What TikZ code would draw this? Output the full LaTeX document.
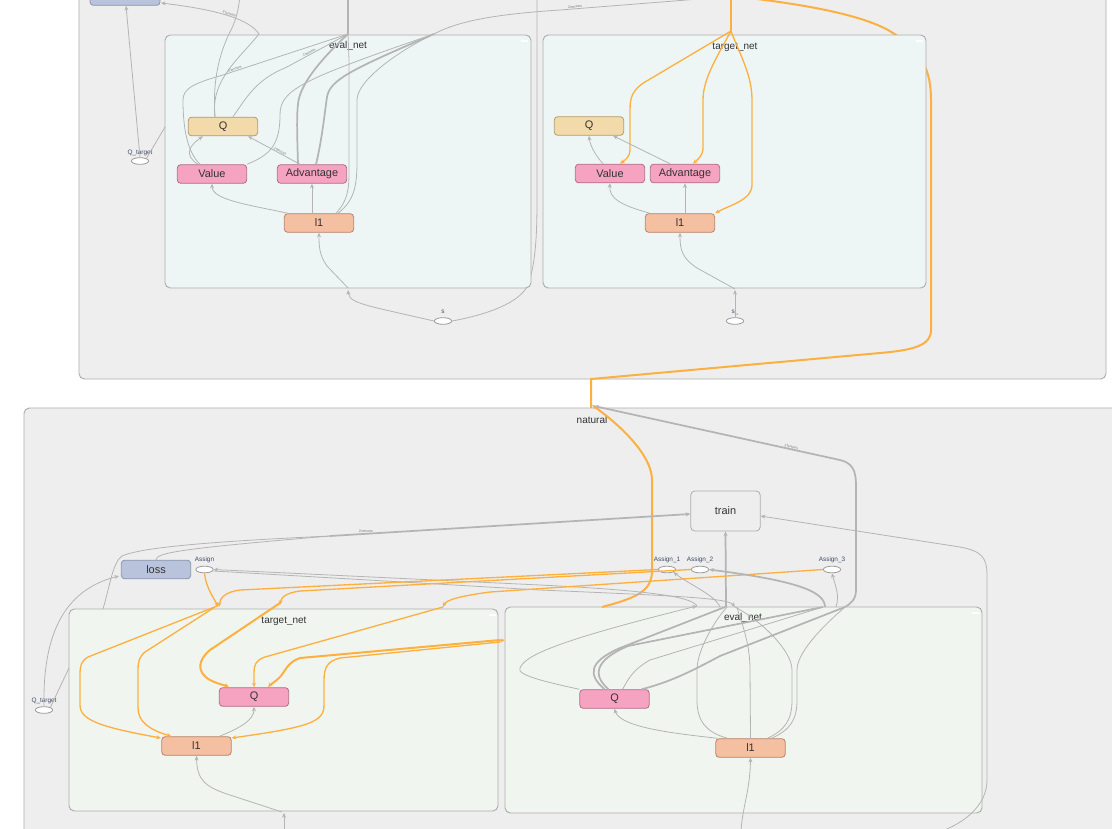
\documentclass[tikz,border=0pt]{standalone}
\usepackage{fontspec}
\setmainfont{Liberation Sans}
\usetikzlibrary{arrows.meta,calc,shapes.geometric}
\definecolor{outerbg}{HTML}{EEEEEE}
\definecolor{grpdraw}{HTML}{ADADAD}
\definecolor{evalbg}{HTML}{EEF6F5}
\definecolor{lowbg}{HTML}{F1F5EF}
\definecolor{tanfill}{HTML}{F2DAAB}
\definecolor{tandraw}{HTML}{B39B6C}
\definecolor{pinkfill}{HTML}{F5A3C0}
\definecolor{pinkdraw}{HTML}{B06F88}
\definecolor{salfill}{HTML}{F5BFA2}
\definecolor{saldraw}{HTML}{B7846A}
\definecolor{lossfill}{HTML}{B9C3DC}
\definecolor{lossdraw}{HTML}{8A95AE}
\definecolor{edgegray}{HTML}{B4B4B4}
\definecolor{orng}{HTML}{FDB040}
\definecolor{txt}{HTML}{333333}
\definecolor{lbltxt}{HTML}{3F4A66}
\definecolor{ellgray}{HTML}{9A9A9A}
\definecolor{trainfill}{HTML}{EEEEEE}
\tikzset{
 op/.style={draw, rounded corners=2.5pt, minimum width=52pt, minimum height=14pt, inner sep=0pt, font=\fontsize{8.2}{9}\selectfont, text=txt, line width=0.6pt},
 qtan/.style={op, fill=tanfill, draw=tandraw},
 pinkn/.style={op, fill=pinkfill, draw=pinkdraw},
 salm/.style={op, fill=salfill, draw=saldraw},
 lossn/.style={op, fill=lossfill, draw=lossdraw},
 trainn/.style={op, fill=trainfill, draw=grpdraw, minimum height=30pt, rounded corners=3pt},
 ell/.style={ellipse, draw=ellgray, fill=white, minimum width=13pt, minimum height=5pt, inner sep=0pt, line width=0.6pt},
 lbl/.style={font=\fontsize{4.8}{5}\selectfont, text=lbltxt, inner sep=0pt},
 ttl/.style={font=\fontsize{7.5}{8}\selectfont, text=txt, inner sep=0pt},
 grp/.style={draw=grpdraw, line width=0.7pt, rounded corners=4pt},
 ge/.style={draw=edgegray, line width=0.6pt},
 gt/.style={draw=edgegray, line width=1.3pt},
 oe/.style={draw=orng, line width=1pt},
 ot/.style={draw=orng, line width=1.5pt},
 tip/.style={-{Stealth[length=3.5pt,width=3pt]}},
 rtip/.style={{Stealth[length=3.5pt,width=3pt]}-},
 elab/.style={font=\fontsize{2.6}{3}\selectfont, text=black!55, inner sep=0.3pt, sloped},
 mini/.style={draw=white, line width=0.9pt},
}
\begin{document}
\begin{tikzpicture}[x=0.75pt,y=-0.75pt]
\clip (0,0) rectangle (1112,828);
\fill[white] (0,0) rectangle (1112,828);

%% ---------------- upper graph ----------------
\draw[grp, fill=outerbg] (79,-30) rectangle (1106,379);
% long orange edge behind target_net
\draw[ot] (740,-3) .. controls (820,6) and (870,18) .. (893,33) .. controls (922,52) and (931,70) .. (931,100) -- (931,330) .. controls (931,345) and (915,350) .. (880,353) -- (591,379) -- (591,408);
% edge from s up between the groups
\node[ell] (sT) at (443,321) {};
\draw[ge] (sT.east) .. controls (490,314) and (520,302) .. (528,285) .. controls (535,265) and (537,240) .. (537,200) -- (537,-5);

\draw[grp, fill=evalbg] (165,35) rectangle (531,288);
\node[ttl] (evT) at (348,46) {eval\_net};
\draw[mini] (521,41) -- (528,41);
\draw[grp, fill=evalbg] (543,35) rectangle (926,288);
\node[ttl] (tgT) at (735,47) {target\_net};
\draw[mini] (916,41) -- (923,41);

\node[lossn, minimum width=52.5pt] (lossT) at (125,-4) {loss};
\node[ell] (QtargT) at (140,161) {};
\node[lbl] at (140,153) {Q\_target};
\node[lbl] at (443,312) {s};

\node[qtan] (QeT) at (223,126.5) {Q};
\node[pinkn] (ValT) at (212,174) {Value};
\node[pinkn] (AdvT) at (312,174) {Advantage};
\node[salm] (l1T) at (319,223) {l1};

\node[qtan] (QtT) at (589,126) {Q};
\node[pinkn] (VtT) at (610,173.5) {Value};
\node[pinkn] (AtT) at (685,173.5) {Advantage};
\node[salm] (l1tT) at (680,223) {l1};
\node[ell] (sU) at (735,321) {};
\node[lbl] at (735,312) {s\_};

\coordinate (h1) at (348,34);
\coordinate (h2) at (434,34);
\coordinate (h3) at (259,34);
\coordinate (ho) at (731,31);

% eval_net (upper) edges
\draw[gt] (348,-5) -- (h1);
\draw[ge,tip] (QtargT.north) -- ($(lossT.south)+(1,0)$);
\draw[ge] (QtargT.north east) -- (165,127);
\draw[ge,tip] (h3) .. controls (250,20) and (220,10) .. (161,3) node[elab,pos=0.5,above] {3\,tensors};
\draw[ge] (h3) .. controls (240,58) and (210,80) .. ($(QeT.north)+(-8,0)$);
\draw[ge] (240,-5) .. controls (238,18) and (232,28) .. (228,36) .. controls (222,50) and (212,75) .. ($(QeT.north)+(-8,0)$);
\draw[ge] ($(QeT.north)+(10,0)$) .. controls (245,100) and (255,80) .. (285,68) -- (h1) node[elab,pos=0.4,above] {2\,tensors};
\draw[ge] ($(ValT.north)+(-12,0)$) .. controls (185,150) and (183,120) .. (183,100) .. controls (183,88) and (195,83) .. (223,75) -- (h1) node[elab,pos=0.1,above] {2\,tensors};
\draw[ge,tip] ($(ValT.north)+(-14,0)$) .. controls (183,155) and (190,145) .. ($(QeT.south)+(-20,0)$);
\draw[ge,tip] ($(AdvT.north)+(-12,0)$) -- ($(QeT.south)+(25,0)$) node[elab,pos=0.4,above] {2\,tensors};
\draw[gt] ($(AdvT.north)+(-14,0)$) .. controls (297,130) and (296,105) .. (300,95) .. controls (305,80) and (320,60) .. (h1);
\draw[gt] ($(AdvT.north)+(4,0)$) .. controls (322,140) and (325,110) .. (327,97) .. controls (330,80) and (350,70) .. (h2);
\draw[ge] (ValT.north east) .. controls (270,155) and (280,145) .. (280,115) .. controls (280,90) and (300,80) .. (h2);
\draw[ge] ($(l1T.north)+(17,0)$) .. controls (348,200) and (349,190) .. (349,170) -- (349,60) -- (h1);
\draw[ge] ($(l1T.north)+(19,0)$) .. controls (355,200) and (357,185) .. (357,160) -- (357,100) .. controls (357,80) and (400,50) .. (h2);
\draw[ge] (h2) .. controls (460,20) and (500,14) .. (560,10) -- (712,-2) node[elab,pos=0.1,above] {2\,tensors};
\draw[ge,tip] ($(l1T.north west)+(4,0)$) .. controls (250,205) and (212,200) .. (ValT.south);
\draw[ge,tip] ($(l1T.north)+(-7,0)$) -- ($(AdvT.south)+(0,0)$);
\draw[ge,tip] (sT.west) -- (390,311) .. controls (355,303) and (349,300) .. (348,290);
\draw[ge,tip] (348,288) -- (327,266) .. controls (319,255) and (319,245) .. (l1T.south);

% target_net (upper) edges
\draw[oe] (ho) -- (731,-5);
\draw[oe,tip] (ho) -- (645,82) .. controls (632,90) and (630,98) .. (630,110) -- (630,150) .. controls (630,157) and (625,160) .. ($(VtT.north)+(10,0)$);
\draw[oe,tip] (ho) .. controls (715,60) and (703,80) .. (703,100) -- (703,148) .. controls (703,156) and (697,160) .. ($(AtT.north)+(8,0)$);
\draw[oe,tip] (ho) .. controls (740,55) and (752,75) .. (752,100) -- (752,185) .. controls (752,200) and (730,205) .. (l1tT.north east);
\draw[ge,tip] ($(VtT.north)+(-7,0)$) .. controls (595,155) and (590,145) .. (QtT.south);
\draw[ge,tip] ($(AtT.north)+(-15,0)$) -- ($(QtT.south)+(24,0)$);
\draw[ge,tip] ($(l1tT.north west)+(5,0)$) .. controls (620,205) and (609,198) .. (VtT.south);
\draw[ge,tip] ($(l1tT.north)+(5,0)$) -- (AtT.south);
\draw[ge,tip] (sU.north) -- (735,290);
\draw[ge,tip] (735,289) -- (697,268) .. controls (682,258) and (680,250) .. (l1tT.south);

%% ---------------- lower graph ----------------
\draw[grp, fill=outerbg] (24,408) rectangle (1150,870);
\node[ttl] (nat) at (592,420) {natural};

\draw[grp, fill=lowbg] (69,609) rectangle (498,811);
\node[ttl] (tgB) at (284,621) {target\_net};
\draw[mini] (489,615) -- (496,615);
\draw[grp, fill=lowbg] (505,607) rectangle (982,813);
\node[ttl] (evB) at (743,618) {eval\_net};
\draw[mini] (972,613) -- (979,613);

\node[trainn] (train) at (725.5,511) {train};
\node[lossn] (lossB) at (156,569.5) {loss};
\node[ell] (Assign) at (204.5,569.5) {};
\node[lbl] at (204.5,560) {Assign};
\node[ell] (A1) at (667,569.5) {};
\node[lbl] at (667,560) {Assign\_1};
\node[ell] (A2) at (700,569.5) {};
\node[lbl] at (700,560) {Assign\_2};
\node[ell] (A3) at (832,569.5) {};
\node[lbl] at (832,560) {Assign\_3};
\node[ell] (QtargB) at (44,710) {};
\node[lbl] at (44,701) {Q\_target};

\node[pinkn] (QtB) at (254,697) {Q};
\node[salm] (l1tB) at (196.5,746) {l1};
\node[pinkn] (QeB) at (614.5,699) {Q};
\node[salm] (l1eB) at (750.5,748) {l1};

% orange edge from natural's top into eval_net
\draw[ot,tip] (602,607) .. controls (640,597) and (652,590) .. (652,570) -- (652,480) .. controls (652,455) and (620,425) .. (592,405);
% thick gray edge from natural's top
\draw[gt,rtip] (594,406) -- (840,460) node[elab,pos=0.8,above] {2\,tensors} .. controls (852,463) and (856,470) .. (856,485) -- (856,590) .. controls (856,600) and (850,604) .. (845,607);

% train
\draw[gt,tip] (726,607) -- (train.south);
\draw[ge] (lossB.north) .. controls (157,553) and (175,549) .. (330,536);
\draw[ge] (103,609) .. controls (110,585) and (113,562) .. (122,556) .. controls (140,548) and (200,542) .. (330,536);
\draw[gt,tip] (330,536) -- node[elab,pos=0.1,above] {2\,tensors} ($(train.west)+(0,3)$);
\draw[ge,rtip] ($(train.east)+(0,5)$) -- (960,547) .. controls (982,551) and (987,558) .. (987,575) -- (987,780) .. controls (987,805) and (965,825) .. (930,835);

% lower bottom inputs
\draw[ge,tip] (741,830) .. controls (743,805) and (750,790) .. (l1eB.south);
\draw[ge,tip] (284,830) -- (284,813);
\draw[ge,tip] (282,812) -- (230,795) .. controls (205,787) and (197,780) .. (l1tB.south);

% Q_target (lower)
\draw[ge,tip] (QtargB.north) .. controls (43,650) and (55,592) .. (119,576);
\draw[ge] (QtargB.north east) -- (69,668);

% Assign nodes
\draw[oe,tip] (Assign.south) .. controls (206,588) and (214,598) .. (218,607);
\draw[ge,rtip] (Assign.east) -- (540,585) .. controls (640,590) and (692,596) .. (697,606);
\draw[ge,tip] ($(Assign.east)+(0,1.5)$) -- (540,590) .. controls (680,596) and (728,598) .. (735,607);
\draw[oe,tip] (A1.west) -- (240,590) .. controls (225,592) and (220,598) .. (219,607);
\draw[oe,tip] (A2.west) -- (300,591) .. controls (285,593) and (281,598) .. (280,605);
\draw[oe,tip] (A3.west) -- (490,592) .. controls (460,596) and (446,600) .. (443,607);
\draw[ge,rtip] (A1.south east) .. controls (690,585) and (715,595) .. (720,607);
\draw[gt,rtip] (A2.east) .. controls (790,580) and (825,590) .. (825,607);
\draw[ge,rtip] (A3.south) .. controls (835,585) and (840,595) .. (836,607);

% lower target_net inner edges
\draw[oe,tip] (217,606) -- (88,657) .. controls (81,661) and (80,666) .. (80,675) -- (80,705) .. controls (80,720) and (100,727) .. (161,738);
\draw[oe,tip] (215,607) -- (145,652) .. controls (139,657) and (138,662) .. (138,670) -- (138,708) .. controls (138,722) and (150,730) .. ($(l1tB.north west)+(10,0)$);
\draw[ot,tip] (280,603) -- (210,650) .. controls (198,660) and (196,672) .. (210,680) .. controls (220,685) and (225,685) .. ($(QtB.north west)+(10,0)$);
\draw[oe,tip] (443,607) -- (265,657) .. controls (256,660) and (254,665) .. (254,672) -- (QtB.north);
\draw[ot,tip] (500,640) -- (300,658) .. controls (288,662) and (286,670) .. (280,677) .. controls (275,682) and (270,685) .. ($(QtB.north)+(14,0)$);
\draw[oe,tip] (500,642) -- (340,658) .. controls (328,661) and (324,667) .. (324,680) -- (324,705) .. controls (324,722) and (310,727) .. ($(l1tB.east)+(0,-8)$);
\draw[oe,tip] (497,641) -- (505,640);
\draw[ge,tip] ($(l1tB.north)+(23,0)$) .. controls (240,728) and (254,720) .. (QtB.south);

% lower eval_net inner edges
\draw[ge,tip] ($(l1eB.north west)+(2,0)$) .. controls (680,734) and (620,728) .. (QeB.south);
\draw[ge,tip] (QeB.north west) .. controls (550,683) and (515,675) .. (520,668) .. controls (525,655) and (560,640) .. (697,606);
\draw[gt] ($(QeB.north)+(-10,0)$) .. controls (588,675) and (588,662) .. (620,648) -- (725,607);
\draw[gt] ($(QeB.north)+(-6,0)$) .. controls (592,675) and (595,660) .. (628,646) -- (823,607);
\draw[ge] ($(QeB.north)+(8,0)$) .. controls (628,680) and (632,670) .. (650,660) -- (823,607);
\draw[gt] ($(QeB.north east)+(-8,0)$) .. controls (670,682) and (690,672) .. (720,656) -- (845,607);
\draw[ge] ($(l1eB.north west)+(12,0)$) .. controls (705,732) and (697,720) .. (697,700) -- (697,670) .. controls (697,650) and (715,620) .. (727,607);
\draw[ge] (l1eB.north) -- (750,670) .. controls (750,640) and (740,620) .. (737,607);
\draw[ge] ($(l1eB.north east)+(-18,0)$) .. controls (785,730) and (792,720) .. (792,700) -- (792,670) .. controls (792,650) and (760,620) .. (735,607);
\draw[ge] ($(l1eB.north east)+(-14,0)$) .. controls (790,730) and (797,720) .. (797,700) -- (797,670) .. controls (797,650) and (830,620) .. (845,607);
\end{tikzpicture}
\end{document}
